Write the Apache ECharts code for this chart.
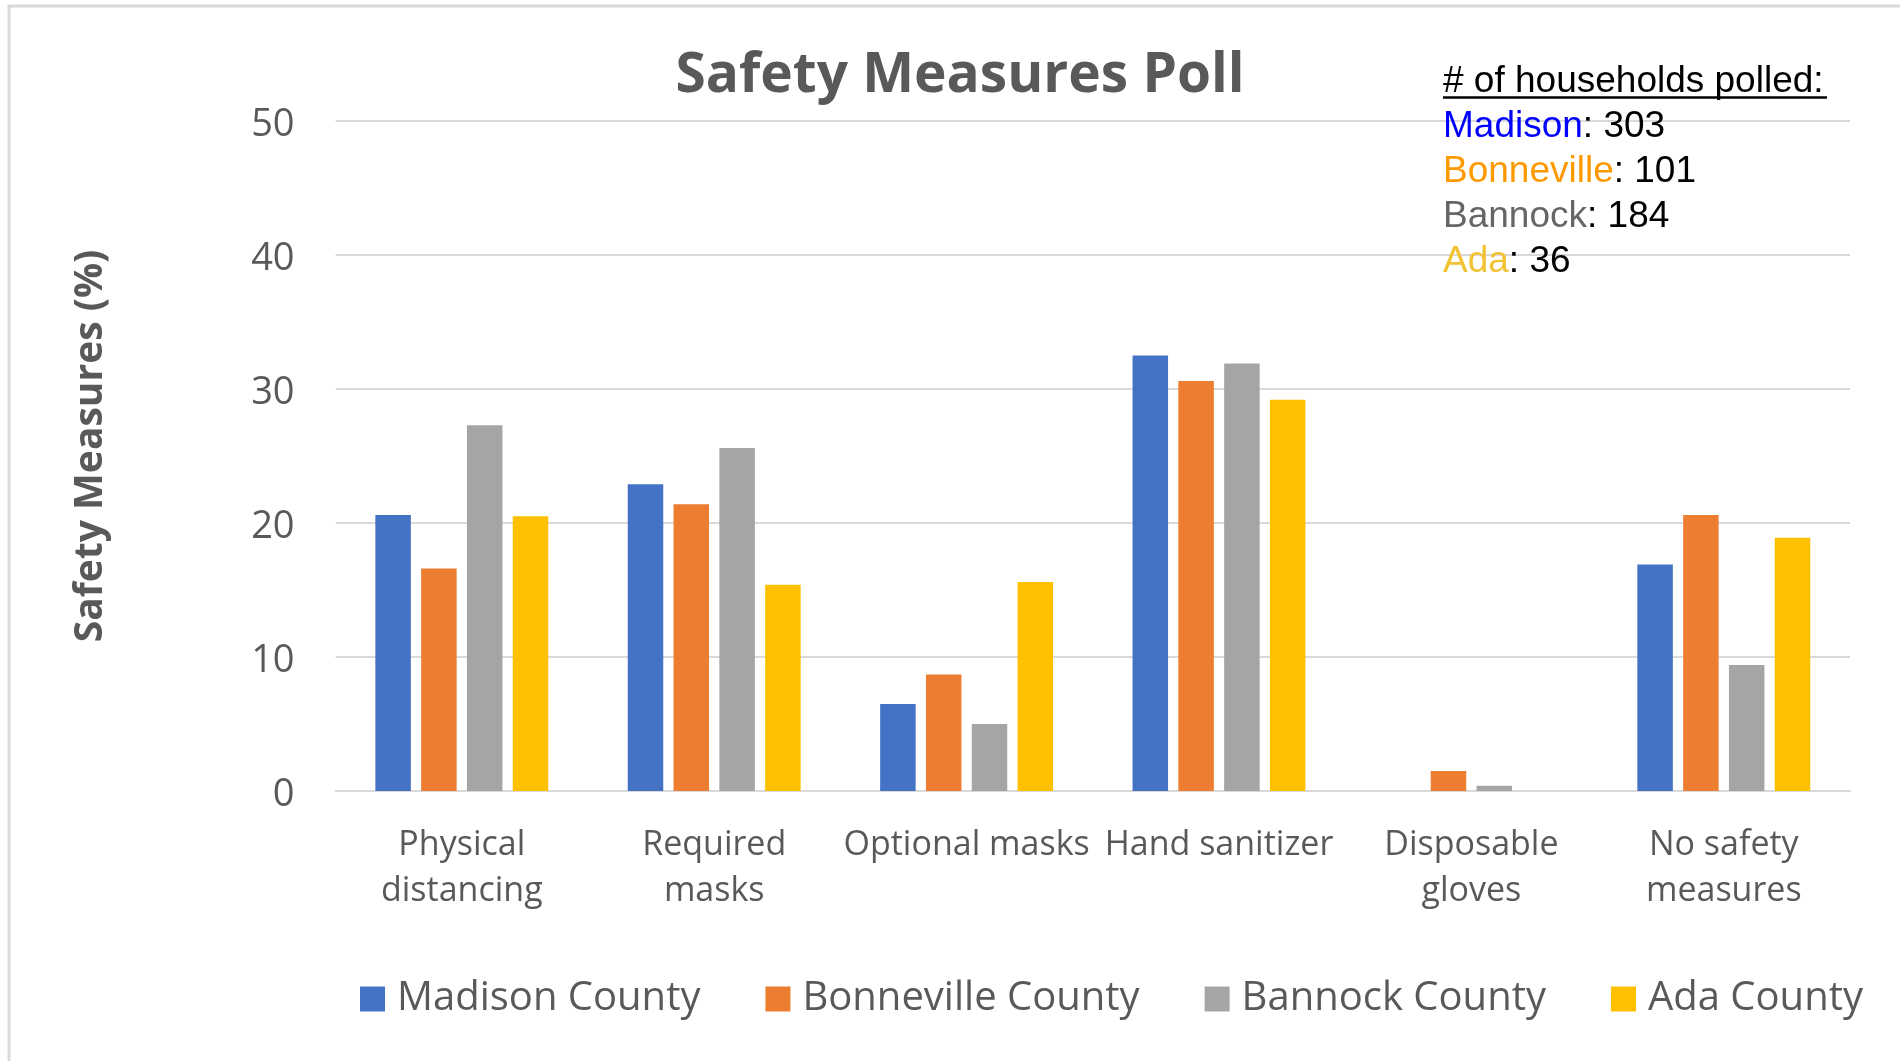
<!DOCTYPE html>
<html>
<head>
<meta charset="utf-8">
<title>Safety Measures Poll</title>
<script src="https://cdn.jsdelivr.net/npm/echarts@6/dist/echarts.min.js"></script>
<style>
  html, body { margin: 0; padding: 0; background: #ffffff; }
  #chart { width: 1900px; height: 1061px; }
</style>
</head>
<body>
<div id="chart"></div>
<script>
// Poll categories (x axis)
const categories = [
  'Physical\ndistancing',
  'Required\nmasks',
  'Optional masks',
  'Hand sanitizer',
  'Disposable\ngloves',
  'No safety\nmeasures'
];

// Share of households (%) per county
const madison    = [20.6, 22.9, 6.5, 32.5, 0,   16.9];
const bonneville = [16.6, 21.4, 8.7, 30.6, 1.5, 20.6];
const bannock    = [27.3, 25.6, 5.0, 31.9, 0.4, 9.4];
const ada        = [20.5, 15.4, 15.6, 29.2, 0,  18.9];

const seriesNames = ['Madison County', 'Bonneville County', 'Bannock County', 'Ada County'];
const seriesColors = ['#4472C4', '#ED7D31', '#A5A5A5', '#FFC000'];

// Households polled per county
const pollCounties = ['Madison', 'Bonneville', 'Bannock', 'Ada'];
const pollCounts = [303, 101, 184, 36];
const pollColors = ['#0000FF', '#FF9900', '#666666', '#F1C232'];

const textGray = '#595959';
const gridGray = '#D9D9D9';
const uiFont = '"Open Sans", "Noto Sans", sans-serif';

const seriesData = [madison, bonneville, bannock, ada];

const chart = echarts.init(document.getElementById('chart'), null, { renderer: 'canvas' });

// Households-polled note, one line per county
const noteX = 1443;
const noteTop = 63;
const noteLineStep = 45;
const noteFont = '37px "Liberation Sans", Arial, sans-serif';

const noteGraphics = [
  {
    type: 'text',
    left: noteX,
    top: noteTop,
    style: {
      text: '# of households polled:',
      font: noteFont,
      fill: '#000000'
    },
    z: 10
  },
  {
    type: 'line',
    shape: { x1: noteX, y1: 97.5, x2: 1827, y2: 97.5 },
    style: { stroke: '#000000', lineWidth: 2.5 },
    z: 10
  }
];

pollCounties.forEach(function (name, i) {
  noteGraphics.push({
    type: 'text',
    left: noteX,
    top: noteTop + (i + 1) * noteLineStep,
    style: {
      text: '{c|' + name + '}{n|: ' + pollCounts[i] + '}',
      font: noteFont,
      rich: {
        c: { fill: pollColors[i], font: noteFont },
        n: { fill: '#000000', font: noteFont }
      }
    },
    z: 10
  });
});

// Vertical axis title
const yTitle = {
  type: 'text',
  x: 91,
  y: 446,
  rotation: Math.PI / 2,
  style: {
    text: 'Safety Measures (%)',
    font: 'bold 39px ' + uiFont,
    fill: textGray,
    align: 'center',
    verticalAlign: 'middle'
  },
  z: 10
};

// Frame around the chart area (left and top edges)
const frame = {
  type: 'polyline',
  shape: { points: [[9, 1061], [9, 6], [1900, 6]] },
  style: { stroke: '#D9D9D9', lineWidth: 3, fill: null },
  z: 0
};

const option = {
  backgroundColor: '#ffffff',
  animation: false,
  title: {
    text: 'Safety Measures Poll',
    left: 955,
    textAlign: 'center',
    top: 44,
    textStyle: {
      fontFamily: uiFont,
      fontWeight: 'bold',
      fontSize: 55,
      color: textGray
    }
  },
  legend: {
    data: seriesNames,
    left: 355,
    top: 974,
    itemWidth: 25,
    itemHeight: 25,
    itemGap: 65,
    icon: 'rect',
    textStyle: {
      fontFamily: uiFont,
      fontSize: 40,
      color: textGray,
      padding: [0, 0, 0, 7]
    }
  },
  grid: {
    left: 335.6,
    right: 50,
    top: 121,
    bottom: 270,
    containLabel: false
  },
  xAxis: {
    type: 'category',
    data: categories,
    axisLine: { show: true, lineStyle: { color: gridGray, width: 2 } },
    axisTick: { show: false },
    axisLabel: {
      interval: 0,
      margin: 31,
      fontFamily: uiFont,
      fontSize: 34,
      lineHeight: 46,
      color: textGray
    }
  },
  yAxis: {
    type: 'value',
    min: 0,
    max: 50,
    interval: 10,
    axisLine: { show: false },
    axisTick: { show: false },
    splitLine: { show: true, lineStyle: { color: gridGray, width: 2 } },
    axisLabel: {
      margin: 41,
      fontFamily: uiFont,
      fontSize: 38,
      color: textGray,
      verticalAlign: 'top',
      lineHeight: 8
    }
  },
  series: seriesNames.map(function (name, i) {
    return {
      name: name,
      type: 'bar',
      data: seriesData[i],
      itemStyle: { color: seriesColors[i] },
      barGap: '29%',
      barCategoryGap: '31.5%'
    };
  }),
  graphic: [frame, yTitle].concat(noteGraphics)
};

chart.setOption(option);
</script>
</body>
</html>
